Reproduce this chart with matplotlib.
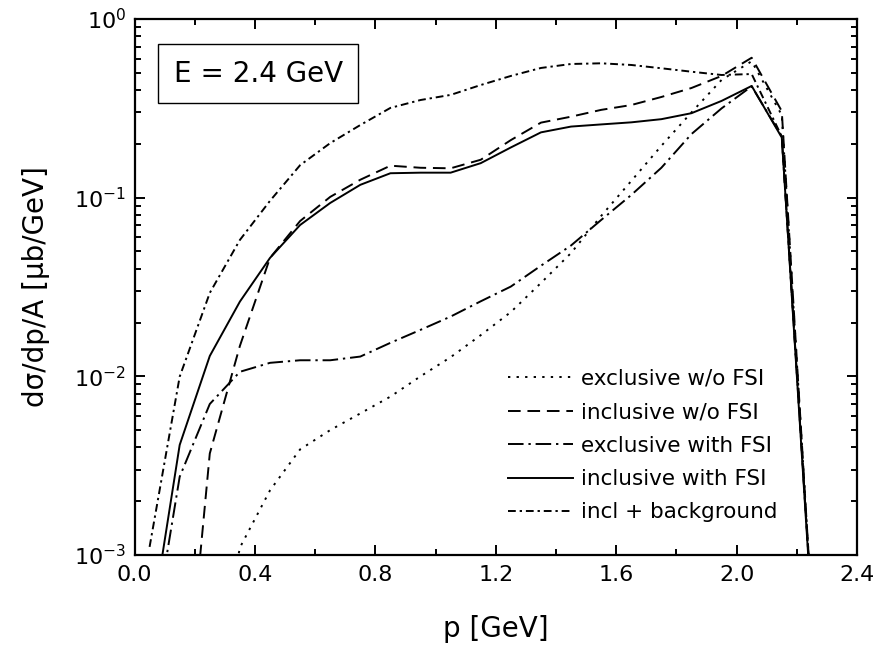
import numpy as np
import matplotlib
matplotlib.use("Agg")
import matplotlib.pyplot as plt
from matplotlib.ticker import MultipleLocator, LogLocator, NullFormatter

plt.rcParams['font.family'] = ['DejaVu Sans']
plt.rcParams['mathtext.default'] = 'regular'

# momentum bins (GeV)
p = [0.05, 0.15, 0.25, 0.35, 0.45, 0.55, 0.65, 0.75, 0.85, 0.95, 1.05, 1.15,
     1.25, 1.35, 1.45, 1.55, 1.65, 1.75, 1.85, 1.95, 2.05, 2.15, 2.25]

# d sigma / dp / A  [mub/GeV]
excl_no_fsi = [5e-6, 2e-5, 1.5e-4, 0.0011, 0.0023, 0.0039, 0.0050, 0.0062, 0.0077,
               0.0100, 0.0128, 0.0170, 0.0229, 0.0333, 0.049, 0.079, 0.124, 0.195,
               0.30, 0.456, 0.58, 0.29, 5e-4]
incl_no_fsi = [1e-5, 6e-5, 0.0037, 0.0148, 0.046, 0.074, 0.101, 0.126, 0.151,
               0.147, 0.146, 0.163, 0.210, 0.263, 0.284, 0.310, 0.330, 0.366,
               0.411, 0.48, 0.607, 0.305, 5e-4]
excl_fsi = [2.6e-4, 0.00274, 0.0070, 0.0106, 0.0119, 0.0123, 0.0123, 0.0129, 0.0154,
            0.0182, 0.0216, 0.0263, 0.0318, 0.0416, 0.054, 0.075, 0.1035, 0.147,
            0.227, 0.316, 0.42, 0.22, 5e-4]
incl_fsi = [3.5e-4, 0.00413, 0.0130, 0.0262, 0.046, 0.0703, 0.0934, 0.118, 0.137,
            0.138, 0.138, 0.156, 0.191, 0.232, 0.250, 0.257, 0.264, 0.275,
            0.297, 0.348, 0.422, 0.217, 4.7e-4]
incl_bg = [0.00111, 0.00996, 0.0293, 0.058, 0.096, 0.152, 0.202, 0.255, 0.318,
           0.352, 0.376, 0.427, 0.48, 0.532, 0.56, 0.565, 0.553, 0.53,
           0.507, 0.486, 0.492, 0.22, 5e-4]

labels = ["exclusive w/o FSI", "inclusive w/o FSI", "exclusive with FSI",
          "inclusive with FSI", "incl + background"]

fig = plt.figure(figsize=(8.81, 6.53), dpi=100)
ax = fig.add_axes([0.1527, 0.1501, 0.8201, 0.8208])

lw = 1.4
ax.plot(p, excl_no_fsi, color='k', lw=lw, linestyle=(0, (1.2, 3.2)), label=labels[0])
ax.plot(p, incl_no_fsi, color='k', lw=lw, linestyle=(0, (6.5, 3.5)), label=labels[1])
ax.plot(p, excl_fsi, color='k', lw=lw, linestyle=(0, (8, 2.5, 1.2, 2.5)), label=labels[2])
ax.plot(p, incl_fsi, color='k', lw=lw, linestyle='-', label=labels[3])
ax.plot(p, incl_bg, color='k', lw=lw, linestyle=(0, (4, 2, 1.2, 2)), label=labels[4])

ax.set_yscale('log')
ax.set_xlim(0.0, 2.4)
ax.set_ylim(1e-3, 1.0)

ax.xaxis.set_major_locator(MultipleLocator(0.4))
ax.xaxis.set_minor_locator(MultipleLocator(0.2))
ax.xaxis.set_major_formatter(plt.FormatStrFormatter('%.1f'))
ax.yaxis.set_major_locator(LogLocator(base=10, numticks=10))
ax.yaxis.set_minor_locator(LogLocator(base=10, subs=np.arange(2, 10), numticks=10))
ax.yaxis.set_minor_formatter(NullFormatter())

ax.tick_params(which='both', direction='in', top=True, right=True, width=1.4)
ax.tick_params(which='major', length=7.5, labelsize=16)
ax.tick_params(which='minor', length=4)
ax.tick_params(axis='x', which='major', pad=7)
ax.tick_params(axis='y', which='major', pad=6)
for s in ax.spines.values():
    s.set_linewidth(1.6)

ax.set_xlabel('p [GeV]', fontsize=20)
ax.set_ylabel('dσ/dp/A [μb/GeV]', fontsize=20)
ax.xaxis.set_label_coords(0.5, -0.112)
ax.yaxis.set_label_coords(-0.117, 0.5)

ax.text(0.171, 0.898, 'E = 2.4 GeV', transform=ax.transAxes, fontsize=20,
        ha='center', va='center',
        bbox=dict(boxstyle='square,pad=0.55', facecolor='white', edgecolor='k', lw=1.0))

ax.legend(loc='upper left', bbox_to_anchor=(0.517, 0.347), frameon=False,
          fontsize=15.5, handlelength=3.0, handletextpad=0.4, labelspacing=0.62,
          borderpad=0, borderaxespad=0)

fig.savefig('out.png', dpi=100)
